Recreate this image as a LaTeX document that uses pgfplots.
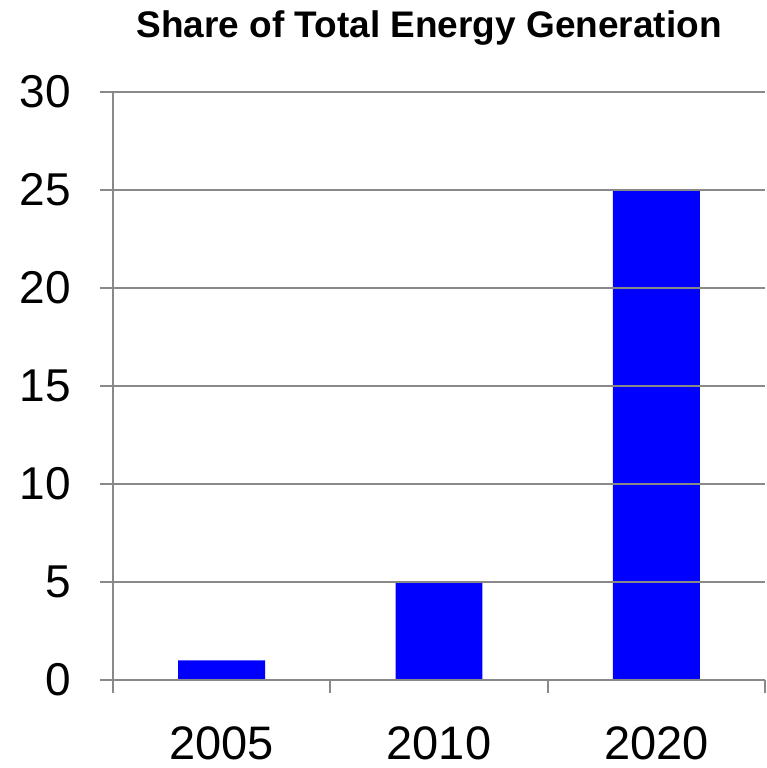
\documentclass[border=0pt]{standalone}
\usepackage{pgfplots}
\pgfplotsset{compat=1.18}
\usepackage{fontspec}
\setmainfont{Liberation Sans}
\definecolor{axisgray}{HTML}{898989}
\definecolor{barblue}{HTML}{0000FF}
\begin{document}
\begin{tikzpicture}[x=1pt,y=1pt]
\useasboundingbox (-113,-88) rectangle (653,680);
\begin{axis}[
  at={(0,0)}, anchor=south west,
  scale only axis, width=652pt, height=588pt,
  xmin=-0.5, xmax=2.5, ymin=0, ymax=30,
  axis lines=left,
  axis line style={-, draw=axisgray, line width=1.8pt},
  axis on top,
  tick align=outside,
  major tick length=13pt,
  tick style={draw=axisgray, line width=1.8pt},
  xtick={-0.5,0.5,1.5,2.5}, xticklabels={,,,},
  extra x ticks={0,1,2},
  extra x tick labels={2005,2010,2020},
  extra x tick style={major tick length=0pt, tick style={draw=none}},
  ytick={0,5,...,30},
  ymajorgrids,
  grid style={draw=axisgray, line width=1.8pt},
  /pgf/number format/assume math mode=true,
  yticklabel style={font=\fontsize{46}{46}\selectfont, inner sep=0pt, anchor=east, xshift=-29pt},
  xticklabel style={font=\fontsize{47}{47}\selectfont, inner sep=0pt, anchor=base, yshift=-79pt},
  title={Share of Total Energy Generation},
  title style={font=\bfseries\fontsize{37}{37}\selectfont, inner sep=0pt, at={(0.5,1)}, anchor=base, yshift=48pt, xshift=-10pt},
  ybar, bar width=0.4,
]
\addplot[fill=barblue, draw=none] coordinates {(0,1) (1,5) (2,25)};
\end{axis}
\end{tikzpicture}
\end{document}
